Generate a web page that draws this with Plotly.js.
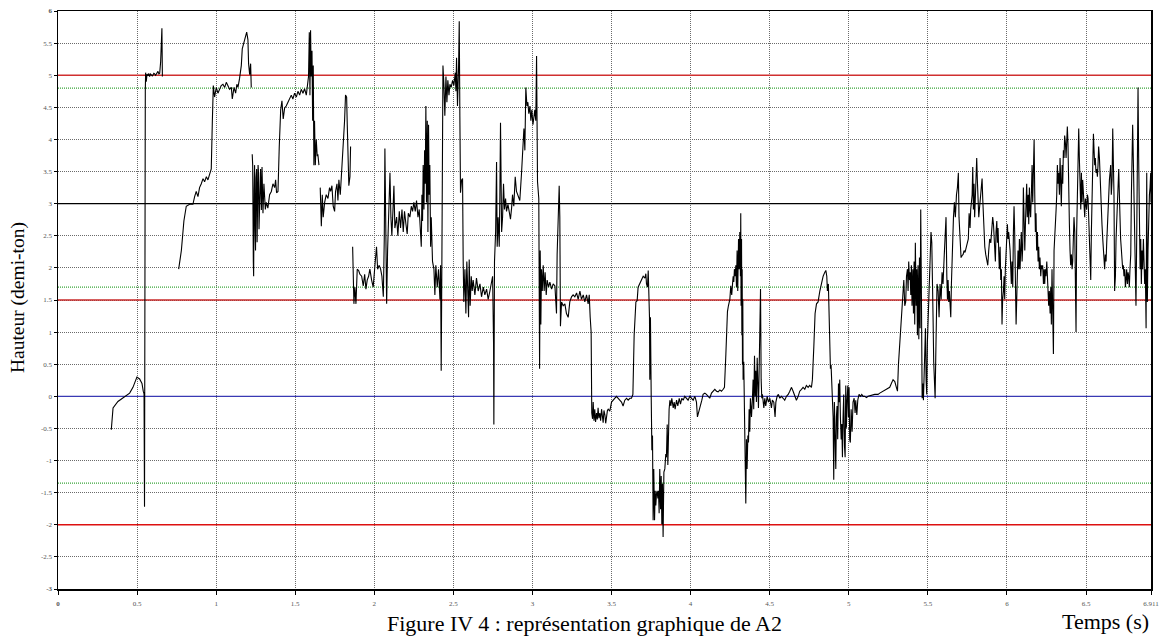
<!DOCTYPE html>
<html><head><meta charset="utf-8">
<script src="https://cdn.plot.ly/plotly-3.0.1.min.js"></script>
<style>html,body{margin:0;padding:0;background:#fff}#chart{width:1159px;height:637px}</style>
</head><body><div id="chart"></div>
<script>
// [time (s), height (demi-ton)] — segments separated by gaps
const segA=[[0.337,-0.52],[0.348,-0.18],[0.379,-0.08],[0.421,0.00],[0.453,0.05],[0.474,0.14],[0.499,0.30],[0.516,0.27],[0.531,0.20],[0.539,0.08],[0.544,0.04],[0.547,-1.72],[0.549,4.70],[0.552,4.75],[0.554,5.04],[0.558,4.90],[0.563,5.02],[0.569,4.99],[0.574,5.03],[0.579,4.98],[0.585,5.02],[0.590,5.01],[0.596,4.99],[0.600,5.00],[0.606,5.03],[0.611,5.02],[0.617,5.00],[0.622,5.02],[0.627,5.04],[0.632,5.06],[0.638,5.02],[0.643,5.03],[0.649,5.21],[0.653,5.38],[0.657,5.73],[0.660,4.98]];
const segB=[[0.763,1.98],[0.780,2.27],[0.796,2.73],[0.811,2.96],[0.832,2.99],[0.853,2.99],[0.864,3.11],[0.874,3.19],[0.885,3.11],[0.895,3.25],[0.906,3.31],[0.917,3.39],[0.927,3.34],[0.938,3.42],[0.948,3.37],[0.959,3.48],[0.969,3.54],[0.976,4.29],[0.982,4.84],[0.990,4.66],[1.001,4.81],[1.011,4.72],[1.022,4.78],[1.032,4.84],[1.043,4.86],[1.054,4.81],[1.064,4.89],[1.075,4.84],[1.085,4.78],[1.096,4.81],[1.102,4.63],[1.113,4.81],[1.123,4.72],[1.131,4.86],[1.138,4.81],[1.148,4.95],[1.159,5.15],[1.165,5.41],[1.176,5.53],[1.184,5.58],[1.193,5.67],[1.201,5.55],[1.205,5.18],[1.212,5.01],[1.218,5.18],[1.222,4.81]];
const segC=[[1.228,3.77],[1.231,3.60],[1.235,2.10],[1.237,1.87],[1.240,3.20],[1.243,3.60],[1.246,2.60],[1.249,2.27],[1.252,3.40],[1.256,3.54],[1.259,2.40],[1.262,2.85],[1.265,3.60],[1.268,3.48],[1.271,2.60],[1.275,2.91],[1.278,3.50],[1.281,3.54],[1.286,2.90],[1.290,3.57],[1.296,2.85],[1.302,3.31],[1.311,2.91],[1.317,3.02],[1.327,2.93],[1.338,3.14],[1.349,3.19],[1.359,3.31],[1.370,3.25],[1.376,3.37],[1.382,3.17],[1.391,3.19],[1.399,3.89],[1.408,4.46],[1.416,4.60],[1.424,4.32],[1.433,4.49],[1.443,4.52],[1.454,4.58],[1.464,4.63],[1.475,4.69],[1.485,4.63],[1.496,4.72],[1.507,4.66],[1.517,4.75],[1.528,4.69],[1.538,4.78],[1.549,4.72],[1.559,4.79],[1.570,4.69],[1.580,4.86],[1.584,4.98],[1.589,5.67],[1.593,4.69],[1.597,5.70],[1.601,4.98],[1.606,5.38],[1.610,4.29],[1.614,5.15],[1.618,3.60],[1.622,4.29],[1.627,3.60],[1.633,4.00],[1.639,3.74],[1.643,3.77],[1.650,3.60]];
const segD=[[1.658,3.25],[1.665,2.65],[1.671,3.14],[1.677,2.79],[1.686,3.02],[1.696,3.14],[1.707,3.08],[1.717,3.25],[1.724,3.19],[1.732,3.28],[1.740,2.96],[1.749,2.88],[1.755,3.19],[1.764,3.31],[1.770,3.05],[1.776,3.37],[1.785,3.14],[1.791,3.39],[1.797,3.71],[1.804,3.89],[1.812,4.29],[1.818,4.69],[1.825,4.66],[1.829,4.23],[1.833,3.60],[1.839,3.28],[1.846,3.42],[1.850,3.89]];
const segE1=[[1.863,2.33],[1.867,1.75],[1.871,1.44],[1.877,1.70],[1.884,1.44],[1.892,1.98],[1.901,1.96],[1.909,1.90],[1.920,1.87],[1.930,1.72],[1.939,1.90],[1.947,1.67],[1.955,1.81],[1.964,1.87],[1.972,1.98],[1.983,1.81],[1.993,1.70],[2.004,2.04],[2.014,2.33],[2.021,1.98],[2.031,2.04],[2.040,1.98],[2.048,1.87],[2.057,1.55],[2.063,2.45],[2.067,3.86],[2.073,2.56],[2.078,1.44],[2.084,2.27],[2.092,3.02],[2.099,3.48],[2.105,2.79],[2.111,2.50],[2.120,3.02],[2.124,3.28],[2.130,2.62],[2.141,2.79],[2.149,2.50],[2.158,2.88],[2.166,2.62],[2.175,2.91],[2.183,2.56],[2.191,2.88],[2.200,2.68],[2.208,2.53],[2.215,2.85],[2.225,2.79],[2.234,2.96],[2.242,2.88],[2.250,3.02],[2.259,2.88],[2.267,3.05],[2.276,2.79],[2.284,2.91],[2.293,2.56],[2.297,2.33],[2.301,3.14],[2.305,2.73],[2.309,3.60],[2.314,2.91],[2.318,3.83],[2.322,3.31],[2.326,4.52],[2.330,3.02],[2.335,4.29],[2.339,2.56],[2.343,4.23],[2.347,3.14],[2.351,3.60],[2.356,2.33],[2.360,2.79],[2.364,2.16],[2.368,2.10],[2.377,1.98],[2.383,1.58],[2.389,2.04],[2.398,1.70],[2.406,1.98],[2.415,1.51],[2.419,2.04],[2.423,0.40],[2.427,1.98],[2.432,3.97],[2.434,5.15],[2.440,4.86],[2.446,4.37],[2.453,4.98],[2.459,4.58],[2.465,4.92],[2.472,4.69],[2.478,4.86],[2.486,4.81],[2.495,4.92],[2.503,4.84],[2.512,5.04],[2.516,4.75],[2.520,5.27],[2.526,4.52],[2.533,5.15],[2.537,5.84],[2.541,4.35],[2.545,3.17],[2.552,3.37],[2.558,3.39],[2.562,2.10],[2.566,1.47],[2.573,1.98],[2.579,1.29],[2.585,2.10],[2.592,1.58],[2.596,1.23],[2.600,2.13],[2.606,1.41],[2.613,1.87],[2.619,1.64],[2.625,1.81],[2.636,1.58],[2.646,1.84],[2.657,1.64],[2.668,1.75],[2.678,1.55],[2.689,1.70],[2.699,1.58],[2.710,1.67],[2.720,1.51],[2.731,1.64],[2.741,1.75],[2.748,1.87],[2.754,0.83],[2.756,-0.44],[2.760,2.10],[2.767,2.56],[2.773,3.65],[2.777,2.33],[2.783,2.79],[2.790,2.33],[2.794,3.14],[2.798,4.26],[2.805,2.56],[2.811,2.79],[2.817,3.31],[2.823,2.91],[2.830,3.08],[2.836,2.88],[2.845,2.99],[2.853,2.88],[2.861,2.76],[2.868,2.93],[2.874,3.14],[2.882,2.96],[2.891,3.42],[2.899,3.19],[2.910,3.11],[2.920,3.05],[2.931,3.48],[2.937,3.71],[2.946,4.17],[2.952,3.83],[2.958,4.81],[2.965,4.52],[2.971,4.58],[2.977,4.40],[2.984,4.52],[2.990,4.29],[2.996,4.46],[3.003,4.23],[3.009,4.40],[3.015,4.46],[3.021,4.29],[3.026,5.30],[3.032,3.34],[3.040,3.08],[3.045,0.43],[3.049,2.27],[3.053,1.12],[3.057,1.98],[3.062,1.64],[3.068,2.04],[3.074,1.64],[3.080,1.93],[3.087,1.58],[3.093,1.81],[3.102,1.70],[3.110,1.78],[3.121,1.67],[3.131,1.75],[3.142,1.72],[3.148,1.51],[3.152,1.29],[3.156,2.21],[3.163,2.79],[3.169,3.28],[3.173,2.79],[3.177,1.09],[3.184,1.47],[3.194,1.41],[3.205,1.44],[3.215,1.29],[3.226,1.23],[3.236,1.47],[3.247,1.55],[3.257,1.58],[3.268,1.55],[3.279,1.61],[3.289,1.51],[3.300,1.64],[3.310,1.51],[3.321,1.58],[3.331,1.47],[3.342,1.58],[3.352,1.44],[3.359,1.58],[3.365,1.23],[3.371,1.00],[3.375,-0.26],[3.380,-0.35],[3.384,-0.09],[3.389,-0.38],[3.394,-0.20],[3.399,-0.40],[3.405,-0.26],[3.410,-0.36],[3.415,-0.18],[3.420,-0.34],[3.426,-0.26],[3.431,-0.38],[3.437,-0.20],[3.442,-0.36],[3.447,-0.41],[3.452,-0.22],[3.458,-0.29],[3.463,-0.42],[3.468,-0.32],[3.474,-0.22],[3.479,-0.20],[3.489,-0.23],[3.500,-0.09],[3.510,-0.06],[3.521,-0.03],[3.531,0.00],[3.542,-0.03],[3.552,-0.06],[3.563,-0.09],[3.573,-0.15],[3.584,-0.06],[3.595,-0.03],[3.605,-0.06],[3.616,-0.03],[3.626,-0.03],[3.635,0.03]];
const segE2=[[3.643,0.95],[3.654,1.47],[3.662,1.49],[3.668,1.70],[3.679,1.75],[3.689,1.81],[3.700,1.87],[3.711,1.84],[3.717,1.91],[3.721,1.75],[3.727,1.70],[3.732,1.96],[3.736,1.51],[3.740,1.23],[3.742,0.26],[3.746,1.23],[3.751,-0.03],[3.755,-0.84],[3.759,-0.61],[3.763,-1.93],[3.767,-1.13],[3.772,-1.93],[3.776,-1.47],[3.780,-1.70],[3.784,-1.53],[3.788,-1.47],[3.793,-1.59],[3.797,-1.47],[3.801,-1.82],[3.805,-1.13],[3.810,-1.76],[3.814,-1.24],[3.818,-1.99],[3.822,-1.36],[3.826,-2.19],[3.831,-1.18],[3.837,-1.13],[3.843,-0.90],[3.847,-0.95],[3.852,-0.44],[3.856,-1.07],[3.860,-0.44],[3.864,-0.20],[3.869,-0.06],[3.875,-0.15],[3.881,-0.03],[3.890,-0.18],[3.896,-0.09],[3.902,-0.20],[3.911,-0.06],[3.919,-0.15],[3.928,-0.03],[3.936,-0.12],[3.944,-0.03],[3.953,-0.06],[3.963,0.00],[3.974,-0.03],[3.984,-0.06],[3.995,0.00],[4.005,-0.03],[4.016,-0.06],[4.027,0.00],[4.037,-0.09],[4.043,-0.32],[4.054,-0.23],[4.064,-0.15],[4.071,-0.06],[4.079,0.03],[4.090,0.05],[4.100,0.03],[4.111,0.00],[4.121,-0.03],[4.132,0.05],[4.142,0.08],[4.153,0.11],[4.164,0.08],[4.174,0.07],[4.185,0.10],[4.195,0.08],[4.206,0.11],[4.214,0.14],[4.223,0.66],[4.227,0.95],[4.233,1.32],[4.239,1.41],[4.248,1.51],[4.254,1.72],[4.260,1.58],[4.265,1.75],[4.269,1.87],[4.273,1.78],[4.277,1.98],[4.281,1.87],[4.286,2.04],[4.290,1.70],[4.294,2.27],[4.298,1.64],[4.303,2.45],[4.307,1.98],[4.311,2.56],[4.315,1.87],[4.317,2.85],[4.319,1.41],[4.322,2.45],[4.324,0.95],[4.326,1.98],[4.328,0.49],[4.330,1.51],[4.332,0.26],[4.336,0.54],[4.341,-0.61],[4.345,-1.30],[4.347,-0.90],[4.349,-1.67],[4.353,-0.67],[4.357,-1.13],[4.362,-0.61],[4.366,-0.72],[4.370,-0.20],[4.374,-0.55],[4.378,-0.03],[4.385,-0.32],[4.391,-0.03],[4.395,0.26],[4.399,-0.20],[4.404,0.63],[4.408,0.00],[4.412,0.40],[4.416,-0.09],[4.421,0.60],[4.425,0.20],[4.429,-0.18],[4.433,0.37],[4.437,1.00],[4.442,1.67],[4.446,0.26],[4.450,-0.03],[4.454,0.03],[4.463,-0.18],[4.469,-0.03],[4.475,-0.15],[4.484,0.00],[4.492,-0.09],[4.501,-0.03],[4.511,-0.18],[4.517,-0.06],[4.526,-0.09],[4.534,-0.32],[4.539,-0.09],[4.547,0.00],[4.555,0.03],[4.564,-0.03],[4.574,0.00],[4.585,-0.03],[4.595,-0.06],[4.606,0.00],[4.617,0.03],[4.627,0.08],[4.638,0.14],[4.648,0.08],[4.659,0.00],[4.669,-0.06],[4.680,0.00],[4.690,0.08],[4.701,0.11],[4.711,0.14],[4.722,0.11],[4.732,0.17],[4.743,0.14],[4.753,0.17],[4.764,0.14],[4.770,0.26],[4.779,0.77],[4.787,1.29],[4.796,1.44],[4.806,1.47],[4.817,1.64],[4.827,1.78],[4.838,1.87],[4.848,1.93],[4.855,1.96],[4.861,1.87],[4.865,1.64],[4.871,1.75],[4.876,1.23],[4.880,0.66],[4.884,0.43],[4.888,0.49],[4.893,0.26],[4.897,-0.03],[4.901,-0.32],[4.905,-1.30],[4.909,-0.09],[4.914,-0.67],[4.918,-1.13],[4.922,-0.32],[4.926,-0.15],[4.930,-0.67],[4.935,0.20],[4.939,-0.09],[4.943,0.26],[4.947,-0.32],[4.952,-0.67],[4.956,-0.43],[4.960,-0.95],[4.964,-0.32],[4.968,0.03],[4.973,-0.78],[4.977,-0.95],[4.981,0.17],[4.985,-0.49],[4.989,-0.09],[4.994,0.17],[4.998,-0.32],[5.002,0.14],[5.006,-0.67],[5.010,-0.72],[5.015,-0.20],[5.021,-0.55],[5.027,-0.09],[5.034,-0.03],[5.040,-0.26],[5.044,-0.06],[5.051,-0.29],[5.057,-0.06],[5.065,0.03],[5.074,0.00],[5.082,0.03],[5.091,0.00],[5.101,0.00],[5.112,-0.02],[5.122,0.00],[5.133,0.01],[5.143,0.01],[5.154,0.03],[5.164,0.03],[5.175,0.03],[5.185,0.03],[5.196,0.05]];
const segE3=[[5.217,0.08],[5.238,0.11],[5.259,0.14],[5.280,0.26],[5.291,0.23],[5.301,0.14],[5.308,0.08],[5.314,0.49],[5.322,0.83],[5.329,1.00],[5.335,1.29],[5.341,1.47],[5.348,1.81],[5.354,1.41],[5.360,1.47],[5.365,1.87],[5.371,1.98],[5.375,1.64],[5.379,2.10],[5.384,1.81],[5.388,1.93],[5.392,1.58],[5.396,2.04],[5.400,1.41],[5.405,1.98],[5.409,1.29],[5.413,2.10],[5.417,1.12],[5.421,2.39],[5.426,1.41],[5.430,1.98],[5.434,0.95],[5.438,2.04],[5.443,0.89],[5.447,2.16],[5.451,1.06],[5.455,2.91],[5.459,1.70],[5.464,-0.03],[5.468,0.20],[5.472,-0.06],[5.476,0.20],[5.480,0.54],[5.485,1.06],[5.489,0.26],[5.493,0.03],[5.497,0.83],[5.504,1.41],[5.510,2.04],[5.514,2.33],[5.520,2.56],[5.525,2.39],[5.529,1.98],[5.533,1.23],[5.537,0.54],[5.542,0.26],[5.546,-0.03],[5.550,0.60],[5.554,1.41],[5.558,1.75],[5.565,1.64],[5.571,1.23],[5.577,1.75],[5.584,1.51],[5.590,1.93],[5.596,1.75],[5.603,2.16],[5.609,2.56],[5.615,2.79],[5.620,1.87],[5.624,1.51],[5.628,1.81],[5.632,1.47],[5.636,1.64],[5.641,1.35],[5.645,1.23],[5.649,1.75],[5.655,2.39],[5.662,2.79],[5.668,3.02],[5.674,2.79],[5.681,3.14],[5.687,3.25],[5.693,3.48],[5.697,2.79],[5.704,2.45],[5.710,2.16],[5.716,2.19],[5.723,2.21],[5.729,2.27],[5.735,2.24],[5.744,2.33],[5.750,2.39],[5.756,2.45],[5.761,2.85],[5.767,2.62],[5.771,2.91],[5.775,3.02],[5.780,3.14],[5.784,3.57],[5.788,2.91],[5.792,3.31],[5.796,2.79],[5.801,3.14],[5.805,3.48],[5.809,3.71],[5.813,3.37],[5.818,3.02],[5.822,2.79],[5.826,2.91],[5.832,3.14],[5.839,3.31],[5.843,3.39],[5.847,3.08],[5.851,2.79],[5.856,2.56],[5.860,2.33],[5.866,2.21],[5.872,2.10],[5.879,2.04],[5.885,2.27],[5.891,2.45],[5.898,2.39],[5.904,2.68],[5.910,2.79],[5.915,2.68],[5.919,2.50],[5.923,2.27],[5.927,2.10],[5.931,2.56],[5.936,2.73],[5.940,2.39],[5.944,2.62],[5.948,2.27],[5.952,1.98],[5.957,2.33],[5.961,1.81],[5.965,1.98],[5.969,1.12],[5.973,1.51],[5.978,1.64],[5.982,1.87],[5.986,1.51],[5.990,1.98],[5.995,2.33],[5.999,2.56],[6.003,2.68],[6.007,2.45],[6.011,2.56],[6.020,2.27],[6.024,1.98],[6.028,1.75],[6.032,2.10],[6.037,1.70],[6.041,2.56],[6.045,2.96],[6.049,2.56],[6.054,1.98],[6.058,1.12],[6.062,1.51],[6.066,1.87],[6.070,2.27],[6.075,1.98],[6.079,2.45],[6.083,1.98],[6.087,2.27],[6.091,2.56],[6.096,2.10],[6.100,2.33],[6.104,3.25],[6.108,2.79],[6.113,2.27],[6.117,2.68],[6.121,3.02],[6.125,3.31],[6.129,2.79],[6.134,3.14],[6.138,2.68],[6.142,3.25],[6.146,2.91],[6.150,2.79],[6.155,3.19],[6.159,3.60],[6.163,3.02],[6.167,3.42],[6.172,4.00],[6.176,3.14],[6.180,2.56],[6.184,2.85],[6.188,2.27],[6.193,2.56],[6.197,2.10],[6.201,2.33],[6.205,1.98],[6.209,2.16],[6.214,1.87],[6.218,2.04],[6.222,1.98],[6.226,2.04],[6.231,1.75],[6.235,1.98],[6.239,1.75],[6.243,1.98],[6.247,1.87],[6.252,2.10],[6.256,1.75],[6.260,1.51],[6.264,1.41],[6.268,1.64],[6.273,1.29],[6.277,1.70],[6.281,1.12],[6.285,1.98],[6.290,0.95],[6.294,0.66],[6.298,2.27],[6.302,2.56],[6.306,2.68],[6.311,2.91],[6.315,3.14],[6.319,3.60],[6.323,3.31],[6.327,3.48],[6.332,3.14],[6.336,3.71],[6.340,3.37],[6.344,2.96],[6.349,3.60],[6.353,3.31],[6.357,3.83],[6.361,3.71],[6.365,4.06],[6.370,3.94],[6.374,3.71],[6.378,4.17],[6.382,4.20],[6.386,3.94],[6.391,3.48],[6.395,2.68],[6.399,2.27],[6.403,2.04],[6.408,2.21],[6.412,1.98],[6.416,2.10],[6.420,2.56],[6.424,2.79],[6.429,2.56],[6.433,1.98],[6.437,1.00],[6.441,2.56],[6.445,3.25],[6.450,3.71],[6.454,4.17],[6.458,3.71],[6.462,3.42],[6.467,2.91],[6.471,3.48],[6.475,3.02],[6.479,3.37],[6.483,3.14],[6.488,2.91],[6.492,2.79],[6.496,3.08],[6.500,3.02],[6.504,2.91],[6.509,3.14],[6.513,3.08],[6.517,2.79],[6.521,2.56],[6.526,2.10],[6.530,1.81],[6.534,2.56],[6.538,3.25],[6.542,3.60],[6.547,4.09],[6.551,3.83],[6.555,3.60],[6.559,3.71],[6.563,3.48],[6.568,3.54],[6.572,3.42],[6.576,3.60],[6.580,3.89],[6.585,3.71],[6.589,3.37],[6.593,3.19],[6.597,2.91],[6.601,2.68],[6.606,2.45],[6.610,2.27],[6.614,2.10],[6.618,1.98],[6.622,2.21],[6.627,2.10],[6.631,2.39],[6.635,2.68],[6.639,2.91],[6.644,3.14],[6.648,3.37],[6.652,3.48],[6.656,3.60],[6.660,3.14],[6.665,3.37],[6.669,4.17],[6.673,3.60],[6.677,3.14],[6.681,1.64],[6.686,1.87],[6.690,2.45],[6.694,2.79],[6.698,2.96],[6.703,3.42],[6.707,3.54],[6.711,3.14],[6.715,2.68],[6.719,2.45],[6.724,2.27],[6.728,2.10],[6.732,1.98],[6.736,2.04],[6.740,1.87],[6.745,1.98],[6.749,1.70],[6.753,1.81],[6.757,1.98],[6.762,1.75],[6.766,1.93],[6.770,1.87],[6.774,1.70],[6.778,1.98],[6.783,2.21],[6.787,3.14],[6.791,3.60],[6.795,4.23],[6.799,3.71],[6.804,3.14],[6.808,2.27],[6.812,1.75],[6.816,1.41],[6.821,2.56],[6.825,4.46],[6.829,4.81],[6.833,3.71],[6.837,2.56],[6.842,1.98],[6.846,2.45],[6.850,1.75],[6.854,2.27],[6.858,1.98],[6.863,2.45],[6.867,2.10],[6.871,1.75],[6.875,1.98],[6.880,1.06],[6.884,3.48],[6.888,1.47],[6.892,2.27],[6.896,2.79],[6.901,3.14],[6.905,3.25],[6.909,3.48],[6.911,3.02]];

const segments=[segA,segB,segC,segD,segE1.concat(segE2,segE3)];

// reference levels (demi-ton) and the time span they cover
const refLevels=[5,4.8,3,1.7,1.5,0,-1.35,-2];
const timeSpan=[0,6.911];
const refColors=['#d03030','#3aa53a','#000000','#3aa53a','#c82828','#3a3ab4','#3aa53a','#dd1010'];
const refDash=['solid','1px,1px','solid','1px,1px','solid','solid','1px,1px','solid'];

const xTickVals=[0,0.5,1,1.5,2,2.5,3,3.5,4,4.5,5,5.5,6,6.5,6.911];
const xTickText=['<b>0</b>','0.5','1','1.5','2','2.5','3','3.5','4','4.5','5','5.5','6','6.5','6.911'];
const yTickVals=[-3,-2.5,-2,-1.5,-1,-0.5,0,0.5,1,1.5,2,2.5,3,3.5,4,4.5,5,5.5,6];
const yTickText=['<b>-3</b>','-2.5','-2','-1.5','-1','-0.5','0','0.5','1','1.5','2','2.5','3','3.5','4','4.5','5','5.5','<b>6</b>'];

const xs=[],ys=[];
segments.forEach((s,i)=>{ if(i>0){xs.push(null);ys.push(null);} s.forEach(p=>{xs.push(p[0]);ys.push(p[1]);}); });

const serif='"Liberation Serif","Times New Roman",serif';
const refTraces=refLevels.map((v,i)=>({x:timeSpan,y:[v,v],type:'scatter',mode:'lines',hoverinfo:'skip',
  line:{color:refColors[i],width:refDash[i]==='solid'?1.4:1.3,dash:refDash[i]}}));

const data=refTraces.concat([{x:xs,y:ys,type:'scatter',mode:'lines',connectgaps:false,line:{color:'#000',width:1.1},hoverinfo:'skip'}]);
const gridStyle={showgrid:true,gridcolor:'#6a6a6a',griddash:'1px,1px',gridwidth:1,zeroline:false,
  showline:true,linecolor:'#000',linewidth:1.5,mirror:true,ticks:'outside',tickcolor:'#000',ticklabeloverflow:'allow'};
const layout={
  width:1159,height:637,margin:{l:58,r:8,t:11,b:48},paper_bgcolor:'#fff',plot_bgcolor:'#fff',
  showlegend:false,font:{family:serif,color:'#000'},
  xaxis:Object.assign({range:[0,6.911],tickvals:xTickVals,ticktext:xTickText,tickfont:{size:7,color:'#555',family:serif},
    ticklen:4,ticklabelstandoff:3},gridStyle),
  yaxis:Object.assign({range:[-3,6],tickvals:yTickVals,ticktext:yTickText,tickfont:{size:7,color:'#555',family:serif},
    ticklen:3},gridStyle),
  annotations:[
    {text:'Hauteur (demi-ton)',xref:'paper',yref:'paper',x:-0.0366,y:0.505,textangle:-90,showarrow:false,xanchor:'center',yanchor:'middle',font:{size:19.5,family:serif,color:'#000'}},
    {text:'Figure IV 4 : représentation graphique de A2',xref:'paper',yref:'paper',x:0.482,y:-0.0590,showarrow:false,xanchor:'center',yanchor:'middle',font:{size:22,family:serif,color:'#000'}},
    {text:'Temps (s)',xref:'paper',yref:'paper',x:0.958,y:-0.0570,showarrow:false,xanchor:'center',yanchor:'middle',font:{size:22,family:serif,color:'#000'}}
  ]
};
Plotly.newPlot('chart',data,layout,{staticPlot:true,displayModeBar:false});
</script></body></html>
